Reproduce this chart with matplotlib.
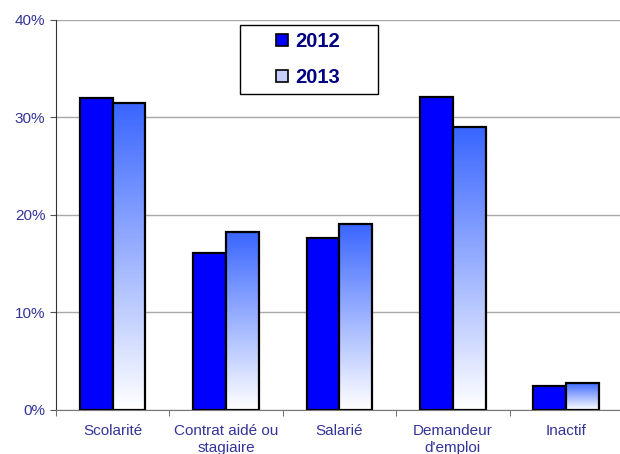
import numpy as np
import matplotlib.pyplot as plt
from matplotlib.colors import LinearSegmentedColormap
from matplotlib.patches import Patch, Rectangle
from matplotlib.ticker import FuncFormatter

plt.rcParams['font.family'] = ['Liberation Sans', 'DejaVu Sans']

categories = ["Scolarité", "Contrat aidé ou\nstagiaire", "Salarié",
              "Demandeur\nd'emploi", "Inactif"]
v2012 = [32.0, 16.1, 17.6, 32.1, 2.5]
v2013 = [31.5, 18.3, 19.1, 29.0, 2.8]

fig = plt.figure(figsize=(6.2, 4.54), dpi=100)
ax = fig.add_axes([0.09, 0.097, 0.915, 0.859])

x = np.arange(len(categories))
w = 0.29
grad = LinearSegmentedColormap.from_list('g', ['#FFFFFF', '#3A66FF'])

ax.yaxis.grid(True, color='#A8A8A8', lw=1)
ax.set_axisbelow(True)

ax.bar(x - w / 2, v2012, w, color='#0000FF', edgecolor='black', lw=1.6, zorder=3)
for xi, h in zip(x, v2013):
    img = np.linspace(0, 1, 100).reshape(-1, 1)
    ax.imshow(img, cmap=grad, origin='lower', aspect='auto',
              extent=[xi, xi + w, 0, h], zorder=3)
ax.bar(x + w / 2, v2013, w, fill=False, edgecolor='black', lw=1.6, zorder=4)

ax.set_xlim(-0.5, len(categories) - 0.5)
ax.set_ylim(0, 40)
ax.set_yticks([0, 10, 20, 30, 40])
ax.yaxis.set_major_formatter(FuncFormatter(lambda v, p: '%d%%' % v))
ax.set_xticks(x)
ax.set_xticklabels(categories, linespacing=1.3)
ax.set_xticks(np.arange(len(categories) + 1) - 0.5, minor=True)
ax.tick_params(axis='x', which='major', length=0, pad=10,
               labelsize=11, labelcolor='#333399')
ax.tick_params(axis='x', which='minor', length=4, color='#555555')
ax.tick_params(axis='y', length=4, labelsize=11, labelcolor='#333399',
               color='#555555')

for s in ['top', 'right']:
    ax.spines[s].set_visible(False)
ax.spines['left'].set_color('#333333')
ax.spines['bottom'].set_color('#777777')

# legend box
fig.patches.append(Rectangle((240 / 620, 1 - 94 / 454), 138 / 620, 69 / 454,
                             transform=fig.transFigure, facecolor='white',
                             edgecolor='black', lw=1, zorder=9))
handles = [Patch(facecolor='#0000FF', edgecolor='black', lw=1.2),
           Patch(facecolor='#C4CEF7', edgecolor='black', lw=1.2)]
leg = fig.legend(handles, ['2012', '2013'], loc='upper left',
                 bbox_to_anchor=(276 / 620, 1 - 32 / 454),
                 bbox_transform=fig.transFigure, frameon=False,
                 handlelength=0.6, handleheight=0.6, handletextpad=0.35,
                 borderpad=0, labelspacing=0.85,
                 prop={'size': 14.5, 'weight': 'bold'}, borderaxespad=0)
leg.set_zorder(10)
for t in leg.get_texts():
    t.set_color('#000080')

fig.savefig('out.png', dpi=100)
